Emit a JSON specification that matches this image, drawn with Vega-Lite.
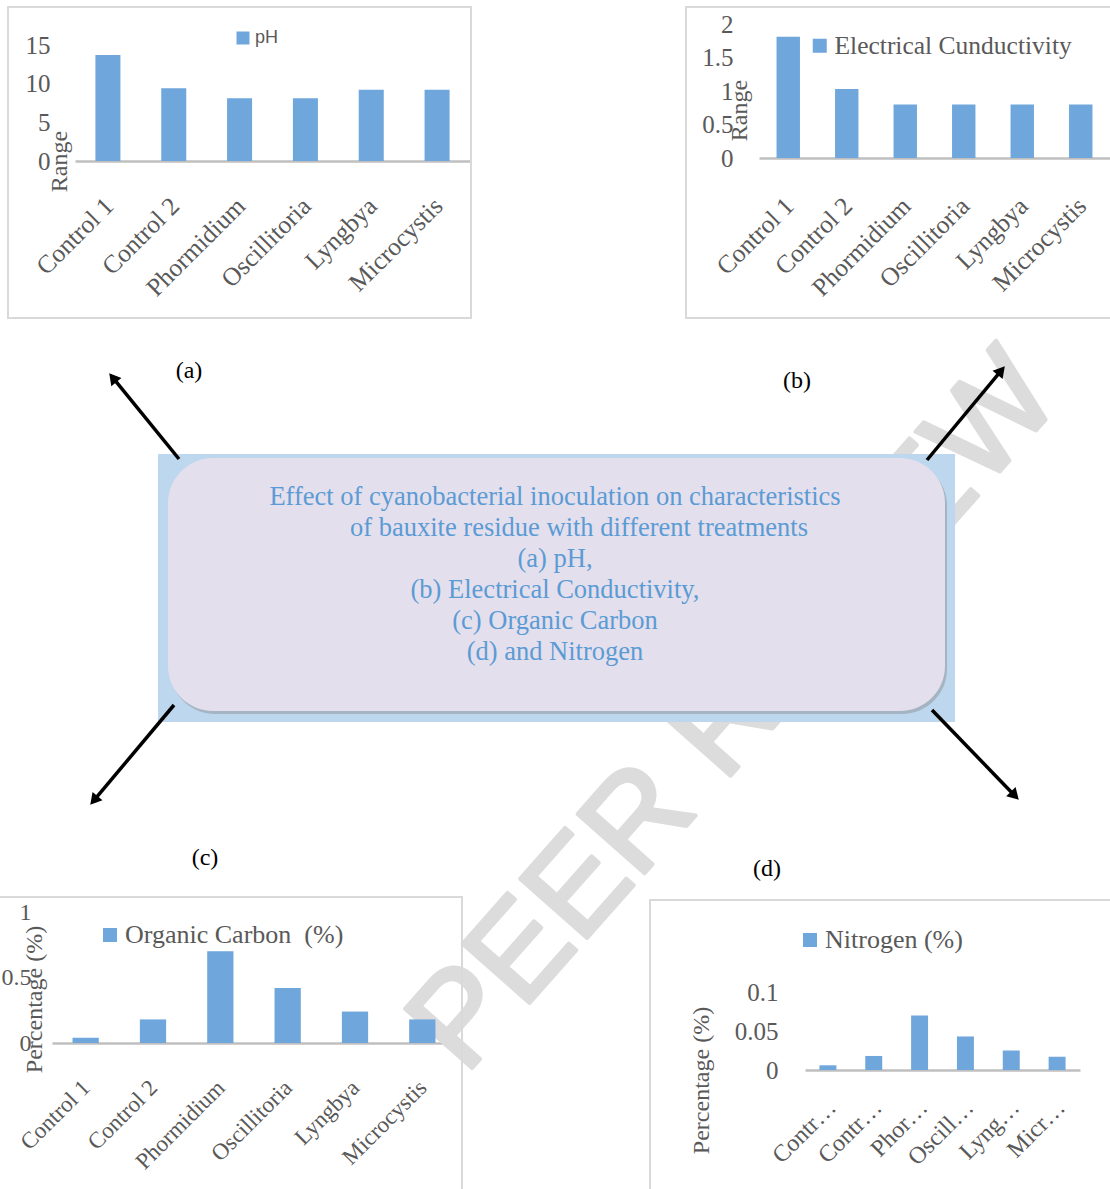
{
  "$schema": "https://vega.github.io/schema/vega-lite/v6.json",
  "width": 1110,
  "height": 1189,
  "autosize": {"type": "none"},
  "padding": 0,
  "background": "white",
  "config": {
    "view": {"stroke": null},
    "font": "Liberation Serif",
    "axis": {"grid": false, "ticks": false, "tickSize": 0, "domainColor": "#BFBFBF", "domainWidth": 2.5, "labelColor": "#595959", "labelFont": "Liberation Serif", "titleColor": "#595959", "titleFont": "Liberation Serif", "titleFontWeight": "normal"},
    "legend": {"title": null, "orient": "none", "symbolType": "square", "symbolStrokeWidth": 0, "padding": 0, "labelColor": "#595959", "labelFont": "Liberation Serif", "labelLimit": 600}
  },
  "datasets": {
    "soil": [
      {"treatment": "Control 1", "parameter": "pH", "value": 13.7},
      {"treatment": "Control 2", "parameter": "pH", "value": 9.4},
      {"treatment": "Phormidium", "parameter": "pH", "value": 8.1},
      {"treatment": "Oscillitoria", "parameter": "pH", "value": 8.1},
      {"treatment": "Lyngbya", "parameter": "pH", "value": 9.2},
      {"treatment": "Microcystis", "parameter": "pH", "value": 9.2},
      {"treatment": "Control 1", "parameter": "Electrical Cunductivity", "value": 1.81},
      {"treatment": "Control 2", "parameter": "Electrical Cunductivity", "value": 1.03},
      {"treatment": "Phormidium", "parameter": "Electrical Cunductivity", "value": 0.8},
      {"treatment": "Oscillitoria", "parameter": "Electrical Cunductivity", "value": 0.8},
      {"treatment": "Lyngbya", "parameter": "Electrical Cunductivity", "value": 0.8},
      {"treatment": "Microcystis", "parameter": "Electrical Cunductivity", "value": 0.8},
      {"treatment": "Control 1", "parameter": "Organic Carbon \u00a0(%)", "value": 0.04},
      {"treatment": "Control 2", "parameter": "Organic Carbon \u00a0(%)", "value": 0.18},
      {"treatment": "Phormidium", "parameter": "Organic Carbon \u00a0(%)", "value": 0.7},
      {"treatment": "Oscillitoria", "parameter": "Organic Carbon \u00a0(%)", "value": 0.42},
      {"treatment": "Lyngbya", "parameter": "Organic Carbon \u00a0(%)", "value": 0.24},
      {"treatment": "Microcystis", "parameter": "Organic Carbon \u00a0(%)", "value": 0.18},
      {"treatment": "Control 1", "parameter": "Nitrogen (%)", "value": 0.006},
      {"treatment": "Control 2", "parameter": "Nitrogen (%)", "value": 0.018},
      {"treatment": "Phormidium", "parameter": "Nitrogen (%)", "value": 0.07},
      {"treatment": "Oscillitoria", "parameter": "Nitrogen (%)", "value": 0.043},
      {"treatment": "Lyngbya", "parameter": "Nitrogen (%)", "value": 0.025},
      {"treatment": "Microcystis", "parameter": "Nitrogen (%)", "value": 0.017}
    ],
    "watermark": [{"text": "PEER REVIEW", "x": 735, "y": 712}],
    "frames": [
      {"panel": "a", "x0": 8, "y0": 7, "x1": 471, "y1": 318},
      {"panel": "b", "x0": 686, "y0": 7, "x1": 1125, "y1": 318},
      {"panel": "c", "x0": -10, "y0": 897, "x1": 462, "y1": 1200},
      {"panel": "d", "x0": 650, "y0": 900, "x1": 1125, "y1": 1200}
    ],
    "box": [
      {"part": "outer", "x0": 158, "y0": 454, "x1": 955, "y1": 722},
      {"part": "shadow", "x0": 170, "y0": 461, "x1": 947, "y1": 714},
      {"part": "panel", "x0": 168, "y0": 458, "x1": 945, "y1": 711}
    ],
    "caption": [
      {"text": "Effect of cyanobacterial inoculation on characteristics", "x": 555, "y": 505},
      {"text": "of bauxite residue with different treatments", "x": 579, "y": 536},
      {"text": "(a) pH,", "x": 555, "y": 567},
      {"text": "(b) Electrical Conductivity,", "x": 555, "y": 598},
      {"text": "(c) Organic Carbon", "x": 555, "y": 629},
      {"text": "(d) and Nitrogen", "x": 555, "y": 660}
    ],
    "arrows": [
      {"panel": "(a)", "x0": 179, "y0": 459, "x1": 112.8, "y1": 377.7, "heading": -39.1},
      {"panel": "(b)", "x0": 927, "y0": 460, "x1": 1001.2, "y1": 370.6, "heading": 39.7},
      {"panel": "(c)", "x0": 174, "y0": 705, "x1": 93.9, "y1": 800.4, "heading": -140},
      {"panel": "(d)", "x0": 932, "y0": 710, "x1": 1014.8, "y1": 795.7, "heading": 136}
    ],
    "panelLabels": [
      {"text": "(a)", "x": 189, "y": 371},
      {"text": "(b)", "x": 797, "y": 381},
      {"text": "(c)", "x": 205, "y": 858},
      {"text": "(d)", "x": 767, "y": 869}
    ]
  },
  "layer": [
    {
      "layer": [
        {
          "data": {"name": "watermark"},
          "mark": {"type": "text", "angle": -48.5, "fontSize": 130, "font": "Liberation Sans", "fill": "#DCDCDC", "stroke": "#DCDCDC", "strokeWidth": 4, "strokeJoin": "round", "align": "center", "baseline": "middle"},
          "encoding": {
            "x": {"field": "x", "type": "quantitative", "scale": {"domain": [0, 1110], "nice": false, "zero": false}, "axis": null},
            "y": {"field": "y", "type": "quantitative", "scale": {"domain": [0, 1189], "nice": false, "zero": false, "reverse": true}, "axis": null},
            "text": {"field": "text"}
          }
        },
        {
          "data": {"name": "frames"},
          "mark": {"type": "rect", "filled": false, "color": "#D9D9D9", "strokeWidth": 2},
          "encoding": {
            "x": {"field": "x0", "type": "quantitative", "scale": {"domain": [0, 1110], "nice": false, "zero": false}, "axis": null},
            "x2": {"field": "x1"},
            "y": {"field": "y0", "type": "quantitative", "scale": {"domain": [0, 1189], "nice": false, "zero": false, "reverse": true}, "axis": null},
            "y2": {"field": "y1"}
          }
        },
        {
          "data": {"name": "box"},
          "transform": [{"filter": "datum.part === 'outer'"}],
          "mark": {"type": "rect", "color": "#BDD7EE"},
          "encoding": {
            "x": {"field": "x0", "type": "quantitative", "scale": {"domain": [0, 1110], "nice": false, "zero": false}, "axis": null},
            "x2": {"field": "x1"},
            "y": {"field": "y0", "type": "quantitative", "scale": {"domain": [0, 1189], "nice": false, "zero": false, "reverse": true}, "axis": null},
            "y2": {"field": "y1"}
          }
        },
        {
          "data": {"name": "box"},
          "transform": [{"filter": "datum.part === 'shadow'"}],
          "mark": {"type": "rect", "color": "#7F7F7F", "opacity": 0.4, "cornerRadius": 45},
          "encoding": {
            "x": {"field": "x0", "type": "quantitative", "scale": {"domain": [0, 1110], "nice": false, "zero": false}, "axis": null},
            "x2": {"field": "x1"},
            "y": {"field": "y0", "type": "quantitative", "scale": {"domain": [0, 1189], "nice": false, "zero": false, "reverse": true}, "axis": null},
            "y2": {"field": "y1"}
          }
        },
        {
          "data": {"name": "box"},
          "transform": [{"filter": "datum.part === 'panel'"}],
          "mark": {"type": "rect", "color": "#E4DFEC", "opacity": 1, "cornerRadius": 45},
          "encoding": {
            "x": {"field": "x0", "type": "quantitative", "scale": {"domain": [0, 1110], "nice": false, "zero": false}, "axis": null},
            "x2": {"field": "x1"},
            "y": {"field": "y0", "type": "quantitative", "scale": {"domain": [0, 1189], "nice": false, "zero": false, "reverse": true}, "axis": null},
            "y2": {"field": "y1"}
          }
        },
        {
          "data": {"name": "caption"},
          "mark": {"type": "text", "fontSize": 26.5, "font": "Liberation Serif", "color": "#5B9BD5", "align": "center", "baseline": "alphabetic"},
          "encoding": {
            "x": {"field": "x", "type": "quantitative", "scale": {"domain": [0, 1110], "nice": false, "zero": false}, "axis": null},
            "y": {"field": "y", "type": "quantitative", "scale": {"domain": [0, 1189], "nice": false, "zero": false, "reverse": true}, "axis": null},
            "text": {"field": "text"}
          }
        },
        {
          "data": {"name": "arrows"},
          "mark": {"type": "rule", "color": "black", "strokeWidth": 3.5},
          "encoding": {
            "x": {"field": "x0", "type": "quantitative", "scale": {"domain": [0, 1110], "nice": false, "zero": false}, "axis": null},
            "x2": {"field": "x1"},
            "y": {"field": "y0", "type": "quantitative", "scale": {"domain": [0, 1189], "nice": false, "zero": false, "reverse": true}, "axis": null},
            "y2": {"field": "y1"}
          }
        },
        {
          "data": {"name": "arrows"},
          "mark": {"type": "point", "shape": "triangle-up", "filled": true, "color": "black", "size": 170, "opacity": 1},
          "encoding": {
            "x": {"field": "x1", "type": "quantitative", "scale": {"domain": [0, 1110], "nice": false, "zero": false}, "axis": null},
            "y": {"field": "y1", "type": "quantitative", "scale": {"domain": [0, 1189], "nice": false, "zero": false, "reverse": true}, "axis": null},
            "angle": {"field": "heading", "type": "quantitative", "scale": null}
          }
        },
        {
          "data": {"name": "panelLabels"},
          "mark": {"type": "text", "fontSize": 24, "font": "Liberation Serif", "color": "black", "align": "center", "baseline": "middle"},
          "encoding": {
            "x": {"field": "x", "type": "quantitative", "scale": {"domain": [0, 1110], "nice": false, "zero": false}, "axis": null},
            "y": {"field": "y", "type": "quantitative", "scale": {"domain": [0, 1189], "nice": false, "zero": false, "reverse": true}, "axis": null},
            "text": {"field": "text"}
          }
        }
      ]
    },
    {
      "data": {"name": "soil"},
      "transform": [{"filter": "datum.parameter === 'pH'"}],
      "mark": {"type": "bar"},
      "encoding": {
        "x": {"field": "treatment", "type": "nominal", "sort": null, "scale": {"range": [75, 470], "paddingInner": 0.62, "paddingOuter": 0.31}, "axis": {"orient": "bottom", "offset": -1028, "title": null, "labelAngle": -45, "labelAlign": "right", "labelBaseline": "top", "labelPadding": 32, "labelOffset": -7, "labelFontSize": 25.5, "labelLimit": 300}},
        "y": {"field": "value", "type": "quantitative", "scale": {"domain": [0, 15], "range": [161, 45], "nice": false}, "axis": {"orient": "left", "offset": -52, "domain": false, "values": [0, 5, 10, 15], "format": "~g", "labelFontSize": 25, "labelPadding": 2, "title": "Range", "titleX": 14, "titleY": 161, "titleAngle": -90, "titleAlign": "center", "titleBaseline": "alphabetic", "titleFontSize": 24}},
        "color": {"field": "parameter", "type": "nominal", "scale": {"range": ["#6FA6DC"]}, "legend": {"legendX": 234, "legendY": 29, "symbolSize": 169, "labelFont": "Liberation Sans", "labelFontSize": 18, "labelOffset": 3}}
      }
    },
    {
      "data": {"name": "soil"},
      "transform": [{"filter": "datum.parameter === 'Electrical Cunductivity'"}],
      "mark": {"type": "bar"},
      "encoding": {
        "x": {"field": "treatment", "type": "nominal", "sort": null, "scale": {"range": [759, 1110], "paddingInner": 0.6, "paddingOuter": 0.3}, "axis": {"orient": "bottom", "offset": -1031, "title": null, "labelAngle": -45, "labelAlign": "right", "labelBaseline": "top", "labelPadding": 35, "labelOffset": -7, "labelFontSize": 25.5, "labelLimit": 300}},
        "y": {"field": "value", "type": "quantitative", "scale": {"domain": [0, 2], "range": [158, 24], "nice": false}, "axis": {"orient": "left", "offset": -735, "domain": false, "values": [0, 0.5, 1, 1.5, 2], "format": "~g", "labelFontSize": 25, "labelPadding": 2, "title": "Range", "titleX": 11, "titleY": 110, "titleAngle": -90, "titleAlign": "center", "titleBaseline": "alphabetic", "titleFontSize": 24}},
        "color": {"field": "parameter", "type": "nominal", "scale": {"range": ["#6FA6DC"]}, "legend": {"legendX": 807, "legendY": 33, "symbolSize": 196, "labelFontSize": 25.5, "labelOffset": 2}}
      }
    },
    {
      "data": {"name": "soil"},
      "transform": [{"filter": "datum.parameter === 'Organic Carbon \u00a0(%)'"}],
      "mark": {"type": "bar"},
      "encoding": {
        "x": {"field": "treatment", "type": "nominal", "sort": null, "scale": {"range": [52, 456], "paddingInner": 0.61, "paddingOuter": 0.305}, "axis": {"orient": "bottom", "offset": -146, "title": null, "labelAngle": -45, "labelAlign": "right", "labelBaseline": "top", "labelPadding": 33, "labelOffset": -7, "labelFontSize": 23, "labelLimit": 300}},
        "y": {"field": "value", "type": "quantitative", "scale": {"domain": [0, 1], "range": [1043, 912], "nice": false}, "axis": {"orient": "left", "offset": -33, "domain": false, "values": [0, 0.5, 1], "format": "~g", "labelFontSize": 24, "labelPadding": 2, "title": "Percentage (%)", "titleX": 8, "titleY": 999, "titleAngle": -90, "titleAlign": "center", "titleBaseline": "alphabetic", "titleFontSize": 24}},
        "color": {"field": "parameter", "type": "nominal", "scale": {"range": ["#6FA6DC"]}, "legend": {"legendX": 97, "legendY": 922, "symbolSize": 196, "labelFontSize": 26, "labelOffset": 2}}
      }
    },
    {
      "data": {"name": "soil"},
      "transform": [{"filter": "datum.parameter === 'Nitrogen (%)'"}],
      "mark": {"type": "bar"},
      "encoding": {
        "x": {"field": "treatment", "type": "nominal", "sort": null, "scale": {"range": [805, 1080], "paddingInner": 0.63, "paddingOuter": 0.315}, "axis": {"orient": "bottom", "offset": -119, "title": null, "labelAngle": -45, "labelAlign": "right", "labelBaseline": "top", "labelPadding": 25, "labelOffset": -4, "labelFontSize": 24, "labelLimit": 82}},
        "y": {"field": "value", "type": "quantitative", "scale": {"domain": [0, 0.1], "range": [1070, 992], "nice": false}, "axis": {"orient": "left", "offset": -780, "domain": false, "values": [0, 0.05, 0.1], "format": "~g", "labelFontSize": 25, "labelPadding": 2, "title": "Percentage (%)", "titleX": -72, "titleY": 1080, "titleAngle": -90, "titleAlign": "center", "titleBaseline": "alphabetic", "titleFontSize": 24}},
        "color": {"field": "parameter", "type": "nominal", "scale": {"range": ["#6FA6DC"]}, "legend": {"legendX": 797, "legendY": 927, "symbolSize": 196, "labelFontSize": 26, "labelOffset": 2}}
      }
    }
  ],
  "resolve": {"scale": {"x": "independent", "y": "independent", "color": "independent"}, "axis": {"x": "independent", "y": "independent"}, "legend": {"color": "independent"}}
}
